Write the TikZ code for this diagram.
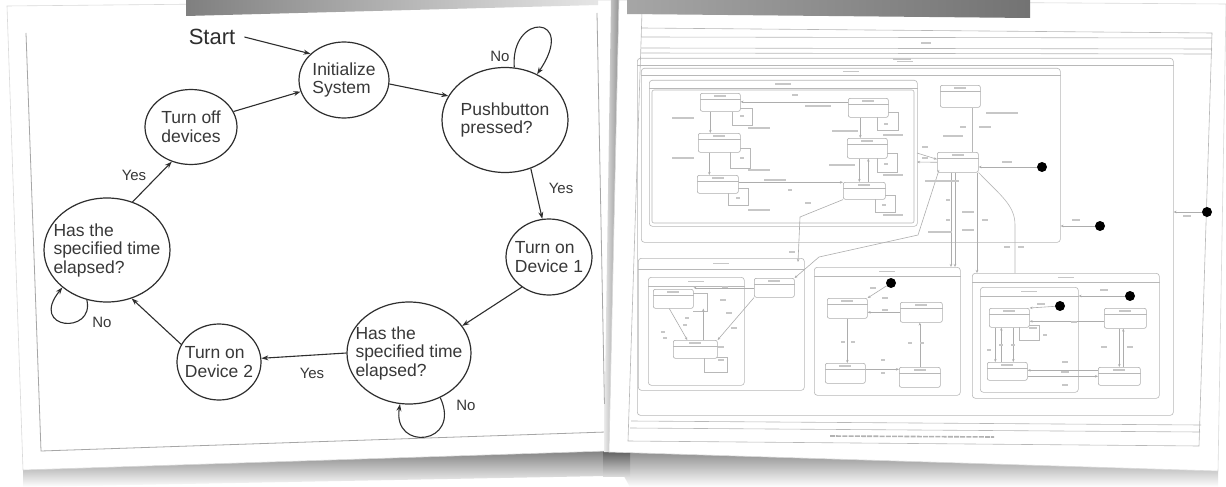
\documentclass[tikz,border=0pt]{standalone}
\usepackage{fontspec}
\setmainfont{Liberation Sans}
\usetikzlibrary{shapes.geometric, arrows.meta}

\newcommand{\rfr}[6]{%
  \node[frm, minimum width=#4pt, minimum height=#5pt, anchor=north west] (#1) at (#2,#3) {};
  \draw[rline] ([yshift=-#6pt]#1.north west) -- ([yshift=-#6pt]#1.north east);
  \draw[tb] ([yshift=-#6pt/2]#1.north) +(-8,0) -- +(8,0);
}
\newcommand{\rst}[5]{%
  \node[rstate, minimum width=#4pt, minimum height=#5pt, anchor=north west] (#1) at (#2,#3) {};
  \draw[rline] ([yshift=-6pt]#1.north west) -- ([yshift=-6pt]#1.north east);
  \draw[tb] ([yshift=-3pt]#1.north) +(-6,0) -- +(6,0);
}
\newcommand{\tbar}[3]{\draw[tb] (#1-#3,#2) -- (#1+#3,#2);}

\begin{document}
\begin{tikzpicture}[x=1pt,y=-1pt,
  stateshape/.style={ellipse, draw=black!82, line width=1.2pt, inner sep=0pt, fill=white},
  stxt/.style={align=left, text=black!78, font=\fontsize{17.5}{18.5}\selectfont, inner sep=0pt},
  lbl/.style={text=black!78, font=\fontsize{15}{16}\selectfont, inner sep=0pt},
  arr/.style={draw=black!82, line width=1.1pt, -{Stealth[length=7pt,width=5pt]}},
  frm/.style={draw=black!28, line width=0.6pt, rounded corners=3pt, inner sep=0pt},
  rstate/.style={draw=black!32, line width=0.6pt, rounded corners=2pt, inner sep=0pt, fill=white},
  rline/.style={draw=black!28, line width=0.6pt},
  rarr/.style={draw=black!32, line width=0.6pt, -{Stealth[length=3pt,width=2.5pt]}},
  tb/.style={draw=black!22, line width=1.4pt},
  dot/.style={circle, fill=black, inner sep=0pt, minimum size=10pt},
  paperedge/.style={draw=black!15, line width=0.6pt, fill=white}
]
\useasboundingbox (0,0) rectangle (1226,487);
\fill[white] (0,0) rectangle (1226,487);

% ---------- shadows below the sheets ----------
\shade[top color=black!50, bottom color=white] (23,469) -- (606,450) -- (606,476) -- (23,487) -- cycle;
\shade[top color=black!45, bottom color=white] (610,451) -- (1218,471) -- (1218,487) -- (630,487) -- cycle;
\shade[top color=black!65, bottom color=black!15] (603,450) rectangle (630,476);

% ---------- left sheet ----------
\path[paperedge] (7,6) -- (616,0) -- (606,451) -- (23,470) -- cycle;
\draw[black!35, line width=0.8pt] (26,33) -- (41,451) -- (606,432);
\draw[black!35, line width=0.8pt] (597,13) -- (605,432);

\node[stateshape, minimum width=90pt, minimum height=76pt] (init) at (344,80) {};
\node[stateshape, minimum width=126pt, minimum height=105pt] (pb) at (505,120) {};
\node[stateshape, minimum width=86pt, minimum height=76pt] (d1) at (549,257) {};
\node[stateshape, minimum width=124pt, minimum height=102pt] (br) at (409,353) {};
\node[stateshape, minimum width=84pt, minimum height=76pt] (d2) at (219,362) {};
\node[stateshape, minimum width=126pt, minimum height=104pt] (lh) at (107,250) {};
\node[stateshape, minimum width=92pt, minimum height=75pt] (toff) at (191,127) {};

\node[stxt] (initT) at (init) {Initialize\\System};
\node[stxt] (pbT) at (pb) {Pushbutton\\pressed?};
\node[stxt] (d1T) at (d1) {Turn on\\Device 1};
\node[stxt] (brT) at (br) {Has the\\specified time\\elapsed?};
\node[stxt] (d2T) at (d2) {Turn on\\Device 2};
\node[stxt] (lhT) at (lh) {Has the\\specified time\\elapsed?};
\node[stxt] (toffT) at (toff) {Turn off\\devices};

\node[text=black!82, font=\fontsize{22}{24}\selectfont, inner sep=1pt] (start) at (212,37) {Start};

\draw[arr] ([xshift=8pt]start.east) -- (init.142);
\draw[arr] (init.-5) -- (pb.157);
\draw[arr] (pb.-62) -- (d1.100);
\draw[arr] (d1.-132) -- (br.27);
\draw[arr] (br.180) -- (d2.5);
\draw[arr] (d2.155) -- (lh.-63);
\draw[arr] (lh.62) -- (toff.-119);
\draw[arr] (toff.20) -- (init.195);
\draw[arr] (pb.80) .. controls (510,12) and (578,14) .. (pb.55);
\draw[arr] (br.-55) .. controls (462,445) and (392,452) .. (br.-100);
\draw[arr] (lh.-112) .. controls (95,335) and (28,330) .. (lh.-140);

\node[lbl] (yes1) at (561,188) {Yes};
\node[lbl] (yes2) at (312,373) {Yes};
\node[lbl] (yes3) at (134,175) {Yes};
\node[lbl] (no1) at (500,56) {No};
\node[lbl] (no2) at (466,405) {No};
\node[lbl] (no3) at (102,322) {No};

% ---------- right sheet ----------
\shade[left color=black!8, right color=black!45] (611,0) -- (620,0) -- (610,452) -- (604,452) -- cycle;
\path[paperedge] (619,0) -- (1226,4) -- (1218,471) -- (609,452) -- cycle;

% outer diagram frame
\draw[rline] (642,12) -- (628,441) -- (1199,446) -- (1212,33) -- (642,28);
\draw[rline] (642,12) .. controls (643,7) and (648,7) .. (650,11);
\draw[rline] (641,37) -- (1212,38);
\draw[rline] (641,48) -- (1212,49);
\draw[rline] (641,53) -- (1212,54);
\draw[rline] (631,421) -- (1201,425);
\draw[rline] (630,428) -- (1200,432);
\tbar{926}{43}{5}
\draw[black!30, line width=1.6pt, dash pattern=on 5pt off 1.2pt] (830,436) -- (994,437);

% nested frames
\rfr{P}{637}{58}{536}{357}{7}
\rfr{O}{641}{68}{419}{174}{7}
\rfr{Inf}{649}{80}{268}{146}{8}
\draw[rline, rounded corners=2pt] (652,90) rectangle (914,223);
\rfr{C}{638}{258}{166}{132}{11}
\rfr{Ca}{648}{277}{96}{108}{9}
\rfr{D}{814}{267}{146}{128}{9}
\rfr{E}{972}{273}{187}{125}{9}
\rfr{Ea}{980}{287}{98}{105}{9}

% states
\rst{s1}{700}{93}{40}{18}
\rst{s2}{698}{133}{42}{19}
\rst{s3}{697}{175}{41}{18}
\rst{s4}{848}{98}{40}{19}
\rst{s5}{847}{138}{40}{20}
\rst{s6}{843}{182}{42}{17}
\rst{idle}{940}{85}{40}{22}
\rst{run}{937}{152}{41}{20}
\rst{c1}{653}{289}{40}{19}
\rst{c2}{673}{340}{44}{18}
\rst{c3}{754}{278}{40}{19}
\rst{q1}{827}{298}{40}{20}
\rst{q2}{900}{302}{42}{20}
\rst{q3}{825}{363}{40}{20}
\rst{q4}{899}{367}{41}{20}
\rst{e1}{989}{308}{40}{19}
\rst{e2}{1104}{308}{42}{20}
\rst{e3}{987}{362}{40}{18}
\rst{e4}{1098}{367}{42}{18}

% self-loop boxes
\draw[rline] (740,108) -- (752,108) -- (752,125) -- (732,125) -- (732,112);
\draw[rline] (740,148) -- (750,148) -- (750,168) -- (730,168) -- (730,152);
\draw[rline] (738,188) -- (748,188) -- (748,205) -- (728,205) -- (728,193);
\draw[rline] (888,112) -- (898,112) -- (898,130) -- (877,130) -- (877,117);
\draw[rline] (887,153) -- (897,153) -- (897,172) -- (877,172) -- (877,158);
\draw[rline] (885,195) -- (895,195) -- (895,212) -- (875,212) -- (875,199);
\draw[rline] (693,293) -- (707,293) -- (707,311) -- (693,311);
\draw[rline] (717,357) -- (727,357) -- (727,372) -- (704,372) -- (704,358);
\draw[rline] (1019,327) -- (1019,340) -- (1039,340) -- (1039,325) -- (1029,325);

% connectors in Infusion
\draw[rarr] ([xshift=-10pt]s1.south) -- ([xshift=-10pt]s1.south |- s2.north);
\draw[rarr] ([xshift=-10pt]s2.south) -- ([xshift=-10pt]s2.south |- s3.north);
\draw[rarr] ([yshift=2pt]s3.east) -- ([yshift=2pt]s3.east -| s6.west);
\draw[rarr] ([yshift=6pt]s4.west) -- ([yshift=6pt]s4.west -| s1.east);
\draw[rarr] ([xshift=-8pt]s4.south) -- ([xshift=-8pt]s4.south |- s5.north);
\draw[rarr] ([xshift=-8pt]s5.south) -- ([xshift=-8pt]s5.south |- s6.north);
\draw[rarr] ([xshift=4pt]s6.north) -- ([xshift=4pt]s6.north |- s5.south);

% Idle / Run
\draw[black!28, line width=2.2pt] ([xshift=13pt]idle.south) -- ([xshift=13pt]idle.south |- run.north);
\draw[white, line width=0.6pt] ([xshift=13pt]idle.south) -- ([xshift=13pt]idle.south |- run.north);
\node[dot] (dotA) at (1042,167) {};
\draw[rarr] (dotA) -- (dotA -| run.east);
\node[dot] (dotB) at (1100,226) {};
\draw[rarr] (dotB) -- (dotB -| O.east);
\node[dot] (dotC) at (1207,212) {};
\draw[rarr] (dotC) -- (dotC -| P.east);
\draw[rarr] (917,153) -- ([yshift=3pt]run.west);
\draw[rarr] (run.west) -- (917,162);

% long connectors
\coordinate (runSW) at (939,170);
\draw[rarr] (runSW) -- (918,235) -- (819,257) -- (c3.north east);
\draw[rarr] (s6.south west) -- (800,217) -- (798,262);
\coordinate (Dt) at (951,267);
\coordinate (Dt2) at (955,267);
\draw[rarr] (run.south -| Dt) -- (Dt);
\draw[rarr] (run.south -| Dt2) -- (Dt2);
\coordinate (Et) at (977,273);
\draw[rarr] (run.south -| Et) -- (Et);
\coordinate (Et2) at (1015,273);
\draw[rline] (run.south east) .. controls (1000,195) and (1015,205) .. (1015,225) -- (Et2);

% C frame
\draw[rarr] (c3.west) -- (c3.west -| c1.east);
\draw[rarr] (c3.south west) -- (c2.north east);
\draw[rarr] ([xshift=-4pt]c1.south) -- ([xshift=-8pt]c2.north);
\draw[rarr] ([xshift=8pt]c2.north |- c2.north) -- ([xshift=8pt]c2.north |- c1.south);

% D frame
\node[dot] (dotD) at (891,283) {};
\draw[rarr] (dotD) -- (q1.north east);
\draw[rarr] (q2.west) -- (q2.west -| q1.east);
\draw[rarr] (q1.south) -- (q1.south |- q3.north);
\draw[rarr] (q4.north) -- (q4.north |- q2.south);
\draw[rarr] ([yshift=4pt]q3.east) -- ([yshift=4pt]q3.east -| q4.west);

% E frame
\node[dot] (dotE) at (1130,296) {};
\draw[rarr] (dotE) -- (dotE -| Ea.east);
\node[dot] (dotF) at (1060,306) {};
\draw[rarr] (dotF) -- (e1.north east);
\draw[rarr] ([yshift=-3pt]e2.west) -- ([yshift=-3pt]e2.west -| e1.east);
\draw[rarr] ([xshift=-14pt]e1.south) -- ([xshift=-14pt]e1.south |- e3.north);
\draw[rarr] ([xshift=-6pt]e3.north) -- ([xshift=-6pt]e3.north |- e1.south);
\draw[rarr] ([xshift=4pt]e1.south) -- ([xshift=4pt]e1.south |- e3.north);
\draw[rarr] ([xshift=-6pt]e2.south) -- ([xshift=-6pt]e2.south |- e4.north);
\draw[rarr] ([xshift=4pt]e4.north) -- ([xshift=4pt]e4.north |- e2.south);
\draw[rarr] ([yshift=6pt]e4.west) -- ([yshift=6pt]e4.west -| e3.east);
\draw[rarr] ([yshift=-5pt]e3.east) -- ([yshift=-5pt]e3.east -| e4.west);

% blurred label marks
\tbar{902}{59}{9}
\tbar{818}{106}{13} \tbar{795}{95}{3}
\tbar{683}{118}{11} \tbar{759}{128}{11}
\tbar{683}{158}{11} \tbar{759}{170}{11}
\tbar{775}{180}{11} \tbar{759}{210}{11}
\tbar{845}{131}{13} \tbar{893}{135}{10}
\tbar{842}{165}{13} \tbar{893}{175}{10}
\tbar{893}{215}{10} \tbar{790}{190}{2}
\tbar{808}{203}{3} \tbar{742}{116}{2} \tbar{742}{158}{2} \tbar{738}{198}{2}
\tbar{886}{124}{2} \tbar{886}{164}{2} \tbar{884}{205}{2}
\tbar{925}{147}{3} \tbar{925}{158}{3}
\tbar{1002}{113}{16} \tbar{985}{127}{6} \tbar{963}{127}{3} \tbar{953}{136}{10}
\tbar{1007}{162}{5} \tbar{942}{181}{17}
\tbar{948}{200}{2} \tbar{948}{220}{2} \tbar{968}{212}{6} \tbar{968}{230}{6}
\tbar{985}{220}{3} \tbar{940}{232}{12}
\tbar{1007}{247}{3} \tbar{1021}{247}{3} \tbar{792}{252}{3}
\tbar{1076}{220}{4} \tbar{1187}{216}{4}
\tbar{725}{287}{3} \tbar{723}{300}{3} \tbar{729}{313}{3} \tbar{734}{328}{3}
\tbar{687}{318}{2} \tbar{685}{325}{2} \tbar{663}{332}{2} \tbar{665}{338}{2}
\tbar{721}{347}{3} \tbar{721}{360}{3}
\tbar{873}{288}{3} \tbar{885}{298}{3} \tbar{885}{310}{3}
\tbar{843}{342}{2} \tbar{853}{342}{2} \tbar{910}{343}{2} \tbar{922}{343}{2}
\tbar{883}{360}{2} \tbar{883}{373}{2}
\tbar{1104}{290}{4} \tbar{1041}{304}{4} \tbar{1074}{322}{3}
\tbar{1033}{328}{4} \tbar{1045}{335}{2}
\tbar{989}{350}{2} \tbar{1001}{345}{2} \tbar{1013}{345}{2}
\tbar{1104}{347}{3} \tbar{1130}{347}{3}
\tbar{1065}{362}{3} \tbar{1065}{372}{4} \tbar{1065}{385}{3}

% shadows at the top (sheets lying above)
\shade[left color=black!50, right color=black!10] (186,0) -- (598,0) -- (598,5) -- (186,16) -- cycle;
\shade[left color=black!35, right color=black!55] (627,0) -- (1030,0) -- (1030,18) -- (627,14) -- cycle;
\end{tikzpicture}
\end{document}
